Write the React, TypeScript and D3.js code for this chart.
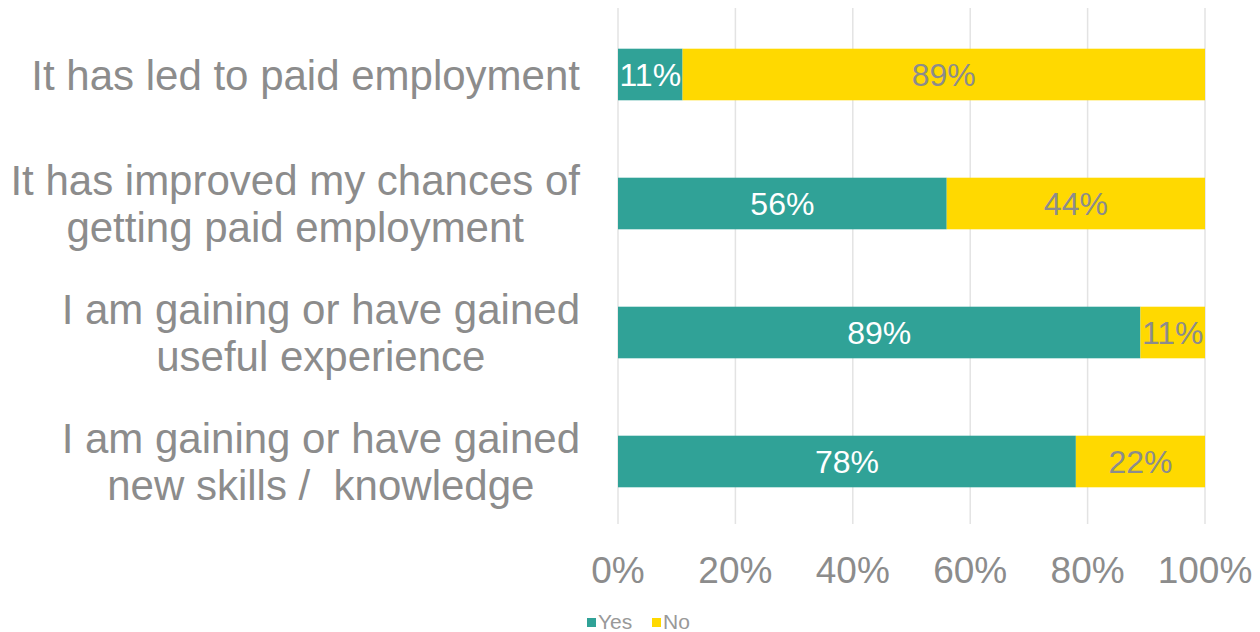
import { useMemo } from "react";
import * as d3 from "d3";

// Survey categories (top to bottom) and their wrapped label lines
const categories = [
  "It has led to paid employment",
  "It has improved my chances of getting paid employment",
  "I am gaining or have gained useful experience",
  "I am gaining or have gained new skills /  knowledge",
];

const categoryLines = [
  ["It has led to paid employment"],
  ["It has improved my chances of", "getting paid employment"],
  ["I am gaining or have gained", "useful experience"],
  ["I am gaining or have gained", "new skills /  knowledge"],
];

const yesValues = [11, 56, 89, 78];
const noValues = [89, 44, 11, 22];

const xTicks = [0, 20, 40, 60, 80, 100];
const seriesNames = ["Yes", "No"];

const WIDTH = 1260;
const HEIGHT = 632;
const TEAL = "#30a297";
const YELLOW = "#ffd900";
const GRAY = "#8c8c8c";
const FONT = "Liberation Sans, Arial, sans-serif";
const LABEL_SIZE = 42;

export default function App() {
  const x = d3.scaleLinear().domain([0, 100]).range([618, 1205]);
  const y = d3
    .scaleBand<string>()
    .domain(categories)
    .range([10, 526])
    .paddingInner(0.6)
    .paddingOuter(0.3);

  // measure label widths so multi-line labels are centered as a block
  const labelWidths = useMemo(() => {
    const ctx = document.createElement("canvas").getContext("2d");
    if (!ctx) return categoryLines.map(() => 550);
    ctx.font = `${LABEL_SIZE}px ${FONT}`;
    return categoryLines.map((lines) =>
      d3.max(lines, (l) => ctx.measureText(l).width) as number
    );
  }, []);

  const labelRight = 580;
  const lineHeight = 47;

  return (
    <svg
      width={WIDTH}
      height={HEIGHT}
      style={{ position: "absolute", left: 0, top: 0, background: "#fff" }}
      fontFamily={FONT}
    >
      {/* grid lines */}
      {xTicks.map((t) => (
        <line
          key={t}
          x1={x(t)}
          x2={x(t)}
          y1={8}
          y2={524}
          stroke="#e3e3e3"
          strokeWidth={1.5}
        />
      ))}

      {/* bars */}
      {categories.map((c, i) => {
        const by = y(c) as number;
        const bh = y.bandwidth();
        const yes = yesValues[i];
        const no = noValues[i];
        return (
          <g key={c}>
            <rect x={x(0)} y={by} width={x(yes) - x(0)} height={bh} fill={TEAL} />
            <rect x={x(yes)} y={by} width={x(yes + no) - x(yes)} height={bh} fill={YELLOW} />
            <text
              x={(x(0) + x(yes)) / 2}
              y={by + bh / 2}
              dy="0.36em"
              textAnchor="middle"
              fontSize={32}
              fill="#fff"
            >
              {yes}%
            </text>
            <text
              x={(x(yes) + x(yes + no)) / 2}
              y={by + bh / 2}
              dy="0.36em"
              textAnchor="middle"
              fontSize={32}
              fill={GRAY}
            >
              {no}%
            </text>
          </g>
        );
      })}

      {/* category labels */}
      {categories.map((c, i) => {
        const lines = categoryLines[i];
        const cy = (y(c) as number) + y.bandwidth() / 2;
        const cx = labelRight - labelWidths[i] / 2;
        const startY = cy - ((lines.length - 1) * lineHeight) / 2;
        return (
          <text
            key={c}
            textAnchor="middle"
            fontSize={LABEL_SIZE}
            fill={GRAY}
            style={{ whiteSpace: "pre" }}
          >
            {lines.map((l, j) => (
              <tspan key={j} x={cx} y={startY + j * lineHeight} dy="0.36em">
                {l}
              </tspan>
            ))}
          </text>
        );
      })}

      {/* x axis tick labels */}
      {xTicks.map((t) => (
        <text
          key={t}
          x={x(t)}
          y={570}
          dy="0.36em"
          textAnchor="middle"
          fontSize={37}
          fill={GRAY}
        >
          {t}%
        </text>
      ))}

      {/* legend */}
      {seriesNames.map((s, i) => {
        const lx = 587 + i * 65;
        return (
          <g key={s}>
            <rect x={lx} y={618} width={9} height={9} fill={i === 0 ? TEAL : YELLOW} />
            <text x={lx + 11} y={621} dy="0.36em" fontSize={21} fill="#999">
              {s}
            </text>
          </g>
        );
      })}
    </svg>
  );
}
